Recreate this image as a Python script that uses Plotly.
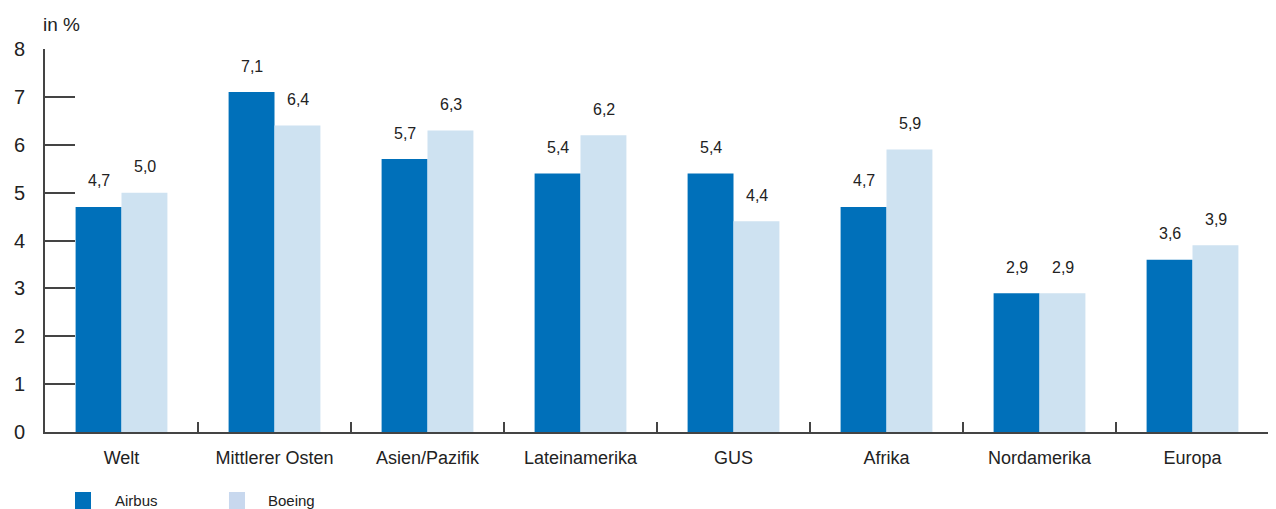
import plotly.graph_objects as go

regions = ["Welt", "Mittlerer Osten", "Asien/Pazifik", "Lateinamerika",
           "GUS", "Afrika", "Nordamerika", "Europa"]
airbus = [4.7, 7.1, 5.7, 5.4, 5.4, 4.7, 2.9, 3.6]
boeing = [5.0, 6.4, 6.3, 6.2, 4.4, 5.9, 2.9, 3.9]
y_ticks = [0, 1, 2, 3, 4, 5, 6, 7, 8]

FONT = "Liberation Sans, Arial, sans-serif"
TEXT = "#222222"
AXIS = "#444444"

colors = {"Airbus": "#0070ba", "Boeing": "#cee2f1"}
legend_colors = {"Airbus": "#0070ba", "Boeing": "#c8d8ee"}


def fmt(v):
    return f"{v:.1f}".replace(".", ",")


fig = go.Figure()

for name, values in [("Airbus", airbus), ("Boeing", boeing)]:
    fig.add_trace(
        go.Bar(
            x=regions,
            y=values,
            name=name,
            showlegend=False,
            marker=dict(color=colors[name], line=dict(width=0)),
        )
    )

# value labels above each bar
bar_px = 46
for i, region in enumerate(regions):
    for values, shift in [(airbus, -bar_px / 2), (boeing, bar_px / 2)]:
        fig.add_annotation(
            x=region,
            y=values[i],
            text=fmt(values[i]),
            showarrow=False,
            xshift=shift,
            yshift=26,
            font=dict(family=FONT, size=16, color=TEXT),
        )

fig.add_annotation(
    xref="paper", yref="paper",
    x=0, y=1,
    xanchor="left", yanchor="bottom",
    xshift=-4, yshift=12,
    text="in %",
    showarrow=False,
    font=dict(family=FONT, size=19, color=TEXT),
)

# legend drawn by hand below the axis (it runs off the bottom edge)
legend_items = [("Airbus", 0.0245, 0.0556), ("Boeing", 0.1503, 0.1806)]
for name, x0, tx in legend_items:
    fig.add_shape(
        type="rect", xref="paper", yref="paper",
        x0=x0, x1=x0 + 0.0131, y0=-0.1567, y1=-0.205,
        fillcolor=legend_colors[name], line=dict(width=0),
    )
    fig.add_annotation(
        xref="paper", yref="paper",
        x=tx, y=-0.18,
        xanchor="left", yanchor="middle",
        text=name,
        showarrow=False,
        font=dict(family=FONT, size=15, color=TEXT),
    )

# page body has an 8px margin, so the figure is sized to fill the rest
fig.update_layout(
    width=1268,
    height=501,
    barmode="group",
    bargap=0.4,
    bargroupgap=0,
    showlegend=False,
    paper_bgcolor="white",
    plot_bgcolor="white",
    margin=dict(l=37, r=7, t=41, b=77),
    font=dict(family=FONT, size=18, color=TEXT),
    xaxis=dict(
        type="category",
        automargin=False,
        showgrid=False,
        showline=True,
        linecolor=AXIS,
        linewidth=2,
        ticks="inside",
        tickson="boundaries",
        ticklen=10,
        tickwidth=1.5,
        tickcolor=AXIS,
        ticklabelstandoff=8,
        tickfont=dict(family=FONT, size=18, color=TEXT),
    ),
    yaxis=dict(
        range=[0, 8],
        tickvals=y_ticks,
        automargin=False,
        showgrid=False,
        zeroline=False,
        showline=True,
        linecolor=AXIS,
        linewidth=2,
        ticks="inside",
        ticklen=30,
        tickwidth=1.5,
        tickcolor=AXIS,
        ticklabelstandoff=14,
        tickfont=dict(family=FONT, size=20, color=TEXT),
    ),
)

fig.write_html("out.html")
